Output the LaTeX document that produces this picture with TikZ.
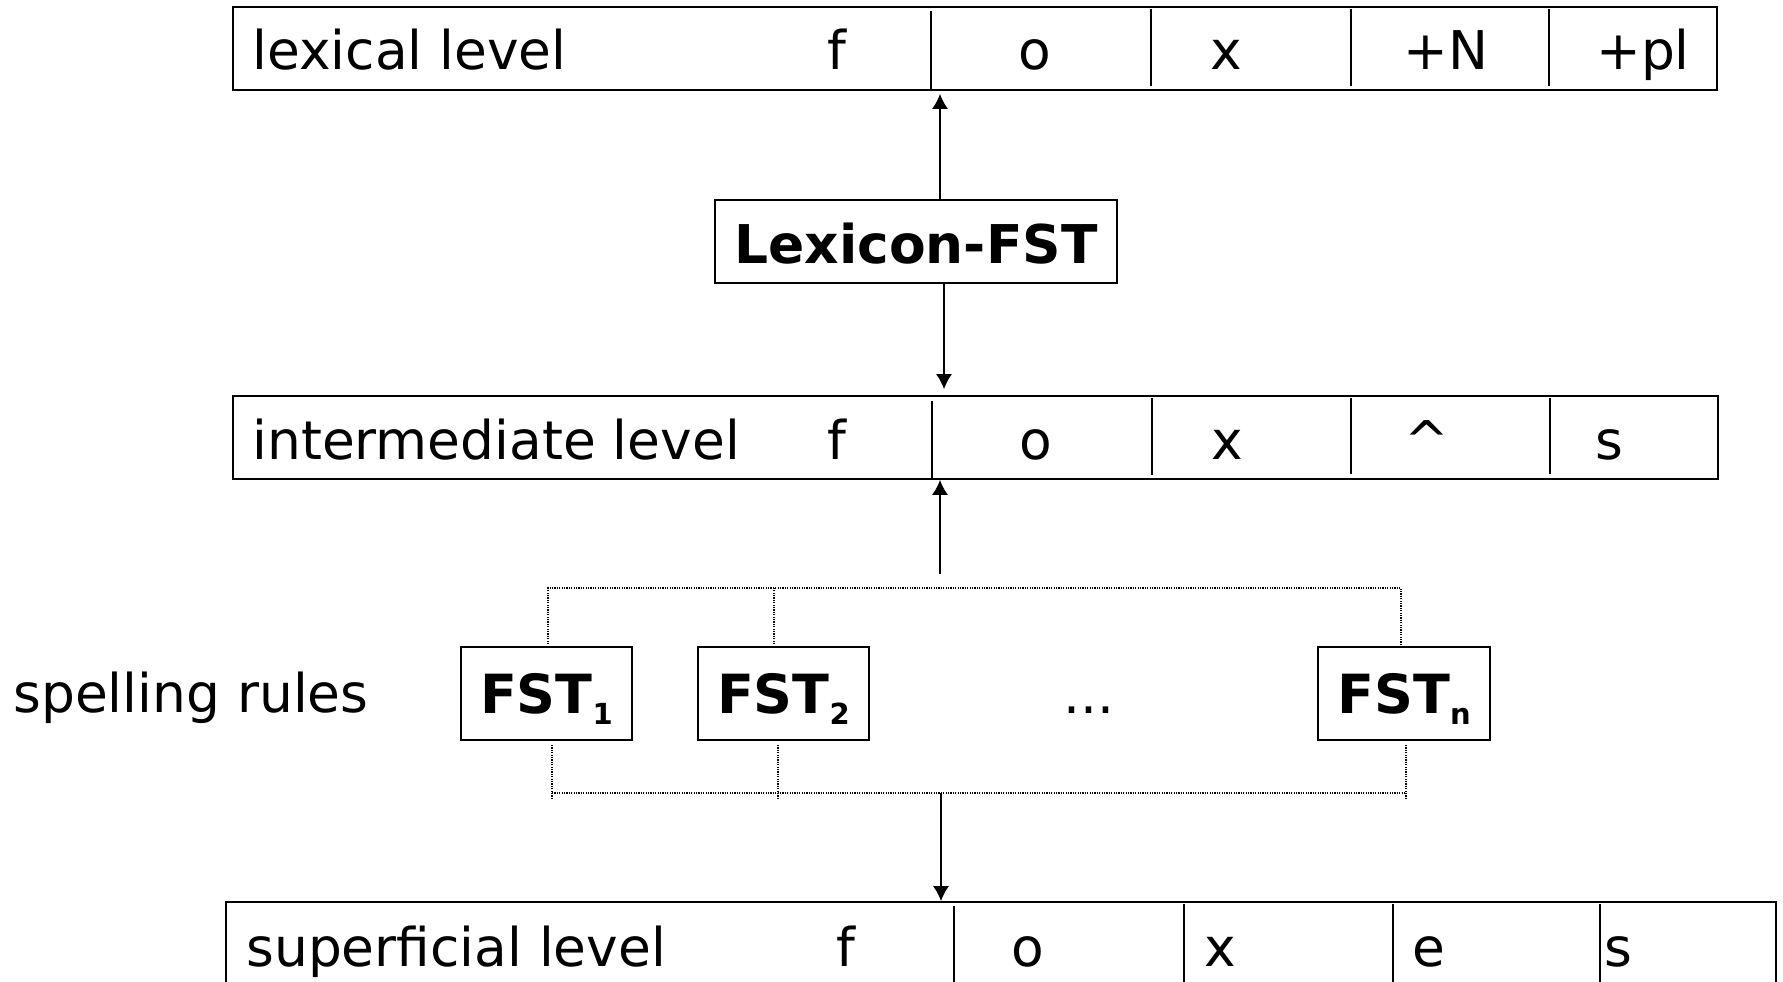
\documentclass[tikz,border=0pt]{standalone}
\usepackage{fontspec}
\setmainfont{DejaVu Sans}
\usetikzlibrary{arrows.meta}
\newcommand{\fstsub}[1]{\raisebox{-5.5pt}{\fontsize{14.5}{15}\selectfont #1}}
\tikzset{
  lvl/.style={draw, line width=0.9pt, inner sep=0pt, minimum height=41.5pt},
  txt/.style={font=\fontsize{26.7}{32}\selectfont, inner sep=0pt, anchor=base},
  lbl/.style={txt, anchor=base west},
  fstbox/.style={draw, line width=0.9pt, inner sep=0pt, minimum width=85.5pt, minimum height=46.5pt,
    font=\fontsize{27}{32}\selectfont\bfseries, text height=19.5pt, text depth=0pt},
  lexbox/.style={draw, line width=0.9pt, inner sep=0pt, minimum width=201pt, minimum height=41.5pt,
    font=\fontsize{26.7}{32}\selectfont\bfseries, text height=21.5pt, text depth=0pt},
  div/.style={line width=0.75pt},
  arr/.style={line width=0.75pt, -{Latex[length=7.5pt,width=8pt]}},
  dotl/.style={line width=0.6pt, dash pattern=on 0.6pt off 0.6pt},
}
\begin{document}
\begin{tikzpicture}[x=0.5pt,y=-0.5pt]
\useasboundingbox (0,0) rectangle (1783,981);
% level boxes
\node[lvl, minimum width=742pt] (lexical) at (975,48.5) {};
\node[lvl, minimum width=742.5pt] (intermediate) at (975.5,437.5) {};
\node[lvl, minimum width=775pt] (superficial) at (1001,943.5) {};
% lexical level
\node[lbl] (lexlbl) at (252,69) {lexical level};
\node[txt] (l1) at (837,69) {f};
\node[txt] (l2) at (1035,69) {o};
\node[txt] (l3) at (1226,69) {x};
\node[txt] (l4) at (1446,69) {+N};
\node[txt] (l5) at (1643,69) {+pl};
\draw[div] (931,11) -- (931,90);
\draw[div] (1151,9) -- (1151,86);
\draw[div] (1351,9) -- (1351,86);
\draw[div] (1549,9) -- (1549,86);
% intermediate level
\node[lbl] (intlbl) at (252,459) {intermediate level};
\node[txt] (i1) at (837,459) {f};
\node[txt] (i2) at (1036,459) {o};
\node[txt] (i3) at (1227,459) {x};
\node[txt] (i4) at (1427,459) {\^{}};
\node[txt] (i5) at (1609,459) {s};
\draw[div] (932,401) -- (932,479);
\draw[div] (1152,398) -- (1152,475);
\draw[div] (1351,398) -- (1351,474);
\draw[div] (1550,398) -- (1550,474);
% superficial level
\node[lbl] (suplbl) at (246,966) {superficial level};
\node[txt] (s1) at (846,966) {f};
\node[txt] (s2) at (1028,966) {o};
\node[txt] (s3) at (1220,966) {x};
\node[txt] (s4) at (1429,966) {e};
\node[txt] (s5) at (1618,966) {s};
\draw[div] (954,906) -- (954,985);
\draw[div] (1184,904) -- (1184,985);
\draw[div] (1393,904) -- (1393,985);
\draw[div] (1600,904) -- (1600,985);
% Lexicon-FST
\node[lexbox] (lexfst) at (916,241.5) {Lexicon-FST};
\coordinate (la) at (940,150);
\coordinate (ld) at (944,340);
\draw[arr, shorten >=1.5pt] (lexfst.north -| la) -- (lexical.south -| la);
\draw[arr, shorten >=3pt] (lexfst.south -| ld) -- (intermediate.north -| ld);
% spelling rules
\node[lbl] (spl) at (13,712) {spelling rules};
\node[fstbox] (fst1) at (546.5,693.5) {FST\fstsub{1}};
\node[fstbox] (fst2) at (783.5,693.5) {FST\fstsub{2}};
\node[fstbox, minimum width=86pt] (fstn) at (1404,693.5) {FST\fstsub{n}};
\node[txt] (dots) at (1089,713) {...};
% bracket above
\coordinate (t1) at (548,588);
\coordinate (t2) at (774,588);
\coordinate (tn) at (1401,588);
\draw[dotl] ([yshift=1pt]fst1.north -| t1) -- (t1) -- (tn) -- ([yshift=1pt]fstn.north -| tn);
\draw[dotl] ([yshift=1pt]fst2.north -| t2) -- (t2);
% bracket below
\coordinate (b1) at (552,793);
\coordinate (b2) at (778,793);
\coordinate (bn) at (1406,793);
\coordinate (e1) at (552,800);
\coordinate (e2) at (778,800);
\coordinate (en) at (1406,800);
\draw[dotl] ([yshift=-2pt]fst1.south -| b1) -- (e1);
\draw[dotl] ([yshift=-2pt]fst2.south -| b2) -- (e2);
\draw[dotl] ([yshift=-2pt]fstn.south -| bn) -- (en);
\draw[dotl] (b1) -- (bn);
% arrows from/to bracket
\coordinate (ta) at (940,574);
\coordinate (ba) at (941,793);
\draw[arr] (ta) -- (intermediate.south -| ta);
\draw[arr] (ba) -- (superficial.north -| ba);
\end{tikzpicture}
\end{document}
